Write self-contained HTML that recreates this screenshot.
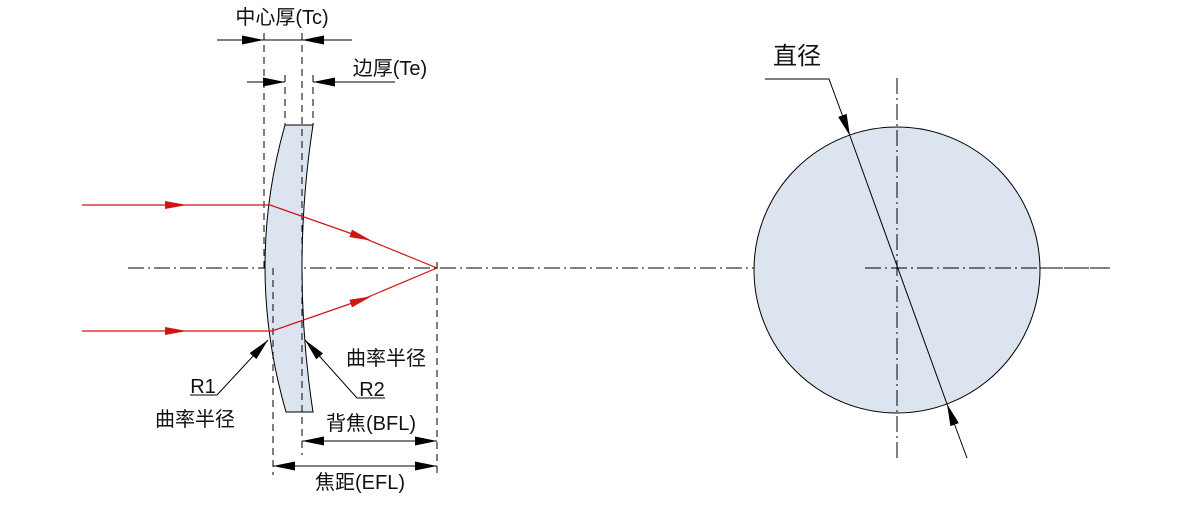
<!DOCTYPE html>
<html><head><meta charset="utf-8"><style>
html,body{margin:0;padding:0;background:#fff;}
svg text{font-family:"Liberation Sans","Noto Sans CJK SC",sans-serif;fill:#111;}
</style></head><body>
<svg width="1200" height="500" viewBox="0 0 1200 500" xmlns="http://www.w3.org/2000/svg">
<defs>
<marker id="ar" markerWidth="22" markerHeight="8" refX="11" refY="4" orient="auto" markerUnits="userSpaceOnUse"><path d="M0,0 L22,4 L0,8z" fill="#d01515"/></marker>
<marker id="big" markerWidth="22" markerHeight="9" refX="22" refY="4.5" orient="auto-start-reverse" markerUnits="userSpaceOnUse"><path d="M0,0 L22,4.5 L0,9z" fill="#000"/></marker>
</defs>
<line x1="128" y1="268" x2="1110" y2="268" stroke="#000" stroke-width="1" stroke-dasharray="16,4,2,4"/>
<path d="M285,125 L313,125 Q291,268 313,412 L286,412 Q244.5,268 285,125Z" fill="#dbe4ef" stroke="#000" stroke-width="1"/>
<g stroke="#000" stroke-width="1" stroke-dasharray="7,5" fill="none">
<line x1="264" y1="33" x2="264" y2="268"/>
<line x1="302" y1="33" x2="302" y2="455"/>
<line x1="285" y1="75" x2="285" y2="125"/>
<line x1="313" y1="75" x2="313" y2="125"/>
<line x1="273" y1="268" x2="273" y2="475"/>
<line x1="437" y1="262" x2="437" y2="475"/>
</g>
<line x1="217" y1="40" x2="264" y2="40" stroke="#000" marker-end="url(#big)"/>
<line x1="352" y1="40" x2="302" y2="40" stroke="#000" marker-end="url(#big)"/>
<line x1="264" y1="40" x2="302" y2="40" stroke="#000"/>
<line x1="247" y1="82" x2="285" y2="82" stroke="#000" marker-end="url(#big)"/>
<line x1="395" y1="82" x2="313" y2="82" stroke="#000" marker-end="url(#big)"/>
<text x="282" y="24" font-size="20" text-anchor="middle">中心厚(Tc)</text>
<text x="390" y="75" font-size="20" text-anchor="middle">边厚(Te)</text>
<g stroke="#d01515" stroke-width="1.2" fill="none">
<path d="M82,205 L176,205" marker-end="url(#ar)"/><path d="M176,205 L270,205 L361,237" marker-end="url(#ar)"/><path d="M361,237 L437,268"/>
<path d="M82,331 L176,331" marker-end="url(#ar)"/><path d="M176,331 L272,331 L361,300" marker-end="url(#ar)"/><path d="M361,300 L437,268"/>
</g>
<path d="M190,395 L217,395 L268,340" stroke="#000" fill="none" marker-end="url(#big)"/>
<path d="M385,398 L357,398 L305,340" stroke="#000" fill="none" marker-end="url(#big)"/>
<text x="203" y="393" font-size="20" text-anchor="middle">R1</text>
<text x="195" y="426" font-size="20" text-anchor="middle">曲率半径</text>
<text x="372" y="396" font-size="20" text-anchor="middle">R2</text>
<text x="386" y="365" font-size="20" text-anchor="middle">曲率半径</text>
<line x1="302" y1="441" x2="437" y2="441" stroke="#000" marker-start="url(#big)" marker-end="url(#big)"/>
<line x1="273" y1="466" x2="437" y2="466" stroke="#000" marker-start="url(#big)" marker-end="url(#big)"/>
<text x="371" y="430" font-size="20" text-anchor="middle">背焦(BFL)</text>
<text x="360" y="489" font-size="20" text-anchor="middle">焦距(EFL)</text>
<circle cx="897" cy="270" r="143" fill="#dbe4ef" stroke="#000" stroke-width="1"/>
<line x1="897" y1="78" x2="897" y2="462" stroke="#000" stroke-dasharray="16,4,2,4"/>
<line x1="865" y1="268" x2="1110" y2="268" stroke="#000" stroke-dasharray="16,4,2,4"/>
<path d="M765,79 L829,79 L850,136" stroke="#000" fill="none" marker-end="url(#big)"/>
<line x1="850" y1="136" x2="947" y2="404" stroke="#000"/>
<line x1="967" y1="458" x2="947" y2="404" stroke="#000" marker-end="url(#big)"/>
<text x="797" y="64" font-size="24" text-anchor="middle">直径</text>
</svg>
</body></html>
